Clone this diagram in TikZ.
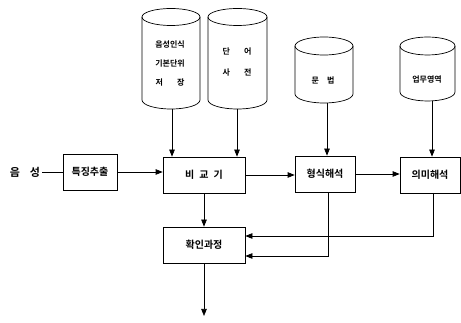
\documentclass[tikz,border=0pt]{standalone}
\usepackage{fontspec}
\newfontfamily\kr{Noto Sans CJK KR}[BoldFont={* Bold}]
\usetikzlibrary{arrows.meta}
\begin{document}
\begin{tikzpicture}[x=1pt,y=-1pt,
  box/.style={draw,line width=0.7pt,inner sep=0pt,font=\kr\bfseries\fontsize{10}{11}\selectfont},
  lbl/.style={inner sep=0pt,font=\kr\bfseries\fontsize{8}{9}\selectfont},
  conn/.style={line width=0.7pt,-{Triangle[length=7pt,width=5.5pt]}},
  cyl/.style={line width=0.7pt}]
\useasboundingbox (0,0) rectangle (461,323);
% cylinders
\draw[cyl] (171,17) ellipse[x radius=29,y radius=8.5];
\draw[cyl] (142,17) -- (142,100) arc[start angle=180,end angle=0,x radius=29,y radius=9] -- (200,17);
\draw[cyl] (237.5,17) ellipse[x radius=29.5,y radius=8.5];
\draw[cyl] (208,17) -- (208,100) arc[start angle=180,end angle=0,x radius=29.5,y radius=9] -- (267,17);
\draw[cyl] (324,46) ellipse[x radius=29,y radius=9];
\draw[cyl] (295,46) -- (295,94) arc[start angle=180,end angle=0,x radius=29,y radius=9] -- (353,46);
\draw[cyl] (427.5,46) ellipse[x radius=27.5,y radius=9];
\draw[cyl] (400,46) -- (400,92) arc[start angle=180,end angle=0,x radius=27.5,y radius=9] -- (455,46);
\coordinate (c1) at (172,109);
\coordinate (c2) at (237,109);
\coordinate (c3) at (327,103);
\coordinate (c4) at (432,101);
\node[lbl] (t1a) at (170,45) {음성인식};
\node[lbl] (t1b) at (170,64) {기본단위};
\node[lbl] (t1c) at (170,83) {저\hspace{14pt}장};
\node[lbl] (t2a) at (237,52) {단\hspace{14pt}어};
\node[lbl] (t2b) at (237,73) {사\hspace{14pt}전};
\node[lbl] (t3) at (323,80) {문\hspace{8pt}법};
\node[lbl] (t4) at (427,80) {업무영역};
% boxes
\node[lbl,font=\kr\bfseries\fontsize{11}{12}\selectfont] (voice) at (25,172) {음\hspace{10pt}성};
\node[box,minimum width=54pt,minimum height=36pt] (feat) at (90,172) {특징추출};
\node[box,minimum width=82pt,minimum height=36pt] (cmp) at (204,175) {비\hspace{5pt}교\hspace{5pt}기};
\node[box,minimum width=60pt,minimum height=36pt] (form) at (325,174) {형식해석};
\node[box,minimum width=60pt,minimum height=36pt] (mean) at (430,175) {의미해석};
\node[box,minimum width=82pt,minimum height=36pt] (chk) at (204,245) {확인과정};
\coordinate (out) at (204,316);
% connectors
\draw[line width=0.7pt] (voice.east) ++(2,0) -- (feat.west);
\draw[conn] (feat.east) -- (feat.east -| cmp.west);
\draw[conn] (cmp.east) -- (cmp.east -| form.west);
\draw[conn] (form.east) -- (form.east -| mean.west);
\draw[conn] (c1) -- (c1 |- cmp.north);
\draw[conn] (c2) -- (c2 |- cmp.north);
\draw[conn] (c3) -- (c3 |- form.north);
\draw[conn] (c4) -- (c4 |- mean.north);
\draw[conn] (cmp.south) -- (chk.north);
\draw[conn] (328,193) |- ([yshift=-11pt]chk.east);
\draw[conn] (433,193) |- ([yshift=9pt]chk.east);
\draw[conn] (chk.south) -- (out);
\end{tikzpicture}
\end{document}
